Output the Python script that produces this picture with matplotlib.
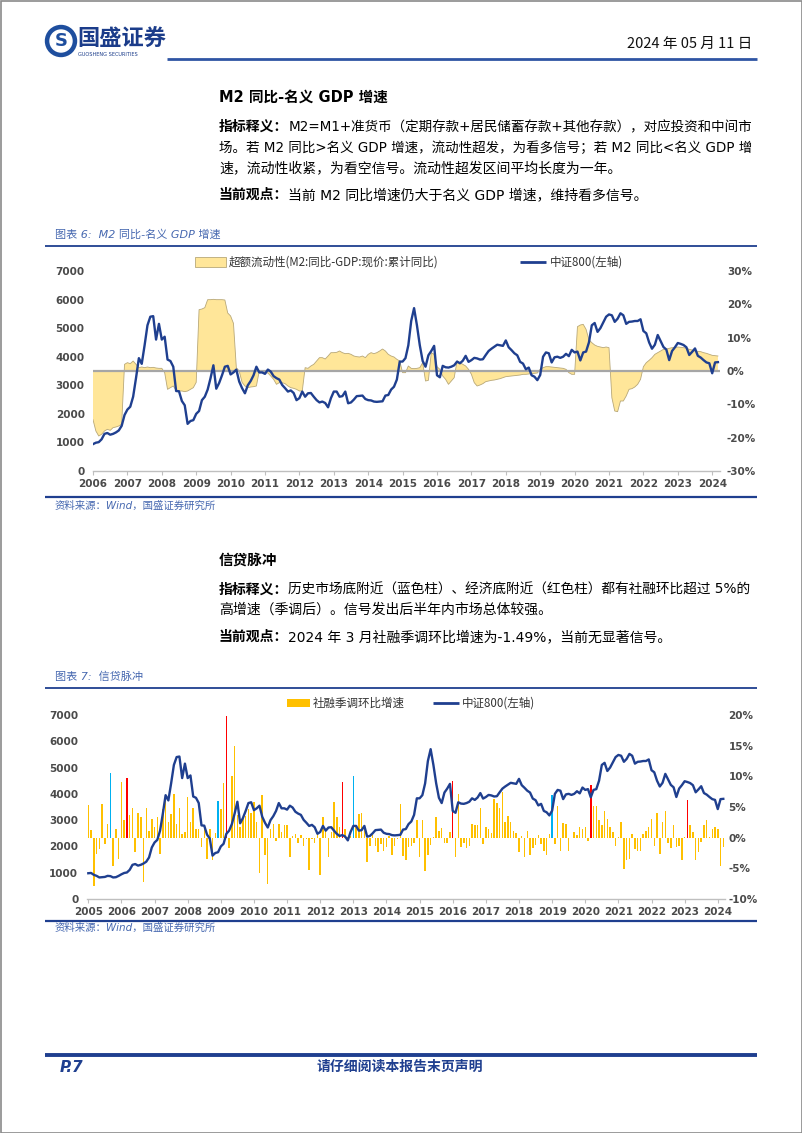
import numpy as np
import matplotlib
matplotlib.use("Agg")
import matplotlib.pyplot as plt
from matplotlib.patches import Rectangle, Circle
from matplotlib.lines import Line2D

plt.rcParams['font.family'] = ['DejaVu Sans', 'Noto Sans CJK SC']
plt.rcParams['axes.unicode_minus'] = False

# ---------------- data ----------------
# CSI 800 monthly close, 2005-01 .. 2024-03
csi800 = [
    980, 990, 920, 880, 820, 830, 840, 880, 870, 820, 830, 880,
    940, 990, 1010, 1110, 1300, 1330, 1270, 1300, 1350, 1420, 1580, 1960,
    2150, 2250, 2600, 3250, 3950, 3750, 4400, 5100, 5400, 5420, 4600, 5150,
    4600, 4700, 3900, 3850, 3650, 2800, 2790, 2450, 2300, 1650, 1750, 1780,
    2000, 2100, 2480, 2600, 2850, 3250, 3700, 2880, 3080, 3350, 3650, 3680,
    3380, 3450, 3550, 3130, 2900, 2720, 3000, 3150, 3350, 3650, 3450, 3450,
    3400, 3550, 3480, 3320, 3250, 3200, 3010, 2900, 2780, 2820, 2730, 2480,
    2550, 2780, 2600, 2720, 2730, 2600, 2480, 2400, 2430, 2380, 2230, 2550,
    2780, 2780, 2600, 2620, 2780, 2370, 2400, 2500, 2620, 2630, 2640, 2520,
    2480, 2470, 2430, 2420, 2430, 2440, 2640, 2660, 2850, 2950, 3200, 3830,
    3830, 3950, 4400, 5250, 5700, 5100, 4400, 3850, 3650, 4050, 4200, 4380,
    3350, 3280, 3680, 3630, 3620, 3650, 3700, 3830, 3770, 3860, 4030, 3820,
    3880, 3960, 3940, 3900, 3910, 4060, 4200, 4280, 4350, 4420, 4400, 4380,
    4570, 4330, 4230, 4120, 4050, 3820, 3760, 3560, 3620, 3350, 3300, 3180,
    3360, 4000, 4150, 4120, 3800, 3980, 4000, 3960, 4000, 4100, 4020, 4240,
    4150, 4180, 3870, 4150, 4180, 4500, 5100, 5180, 4870, 5000, 5200, 5400,
    5480, 5450, 5220, 5330, 5520, 5450, 5150, 5220, 5230, 5250, 5250, 5310,
    4900, 4820, 4500, 4280, 4420, 4760, 4550, 4340, 4250, 3880, 4200, 4330,
    4480, 4450, 4410, 4330, 4060, 4170, 4290, 4030, 3970, 3880, 3800, 3770,
    3420, 3800, 3810,
]
csi800_start = 2005

# Excess liquidity: M2 yoy - nominal GDP cumulative yoy (%), 2006-01 .. 2024-03
excess_liq = [
    -14.6, -18.0, -19.5, -19.0, -18.0, -17.5, -17.8, -17.0, -16.8, -16.5, -16.0, 2.0,
    2.5, 2.2, 3.0, 2.0, 1.0, 1.2, 1.0, 1.2, 1.0, 1.1, 0.9, 0.8,
    0.8, -0.5, -5.5, -5.0, -4.5, -5.8, -6.0, -6.0, -6.2, -6.0, -5.5, -5.0,
    -3.4, 18.4, 18.6, 19.0, 21.4, 21.4, 21.5, 21.4, 21.4, 21.4, 21.3, 17.4,
    16.5, 14.3, 1.0, 0.0, -3.4, -4.5, -5.0, -4.8, -4.7, -4.5, 0.0, -0.5,
    -0.5, -0.6, -1.5, -2.5, -4.0, -3.5, -3.5, -3.8, -4.5, -5.0, -5.2, -5.5,
    -6.0, -6.0, 1.0, 0.8, 1.5, 2.0, 3.0, 4.0, 4.0, 3.6, 4.5, 5.5,
    5.5, 5.6, 6.0, 5.5, 5.2, 5.3, 5.0, 4.5, 4.3, 4.2, 4.5, 4.0,
    5.0, 5.5, 5.2, 5.5, 6.0, 6.6, 6.0, 5.0, 4.5, 4.2, 3.5, 3.0,
    -0.5, -0.5, 1.5, 0.8, 0.7, 0.8, 1.0, 2.5, -3.0, -2.8, 5.5, 5.0,
    1.3, 0.5, -1.5, -2.5, -4.0, -3.0, -2.0, 3.0, 2.5, 2.0, 1.5, 0.5,
    -1.0, -3.5, -4.5, -4.2, -3.8, -3.2, -3.0, -2.8, -2.7, -2.5, -2.3, -2.0,
    -1.7, -1.6, -1.5, -1.4, -1.3, -1.2, -1.0, -1.0, -0.9, -0.8, -0.7, -0.6,
    0.5, 1.0, 1.3, 1.3, 1.2, 1.1, 1.0, 0.9, 0.8, 0.5, -0.5, -1.0,
    -1.0, 13.3, 13.8, 14.0, 12.5, 9.4, 8.5, 7.8, 7.4, 7.2, 7.0, 7.2,
    7.0, -8.0, -12.0, -12.2, -9.0, -9.0, -7.5, -5.5, -5.3, -4.8, -4.0, -2.5,
    1.3, 2.5, 3.2, 4.0, 5.0, 5.5, 6.0, 6.5, 6.6, 6.8, 7.0, 7.0,
    7.2, 7.1, 7.0, 6.8, 6.5, 6.3, 6.0, 5.9, 5.8, 5.5, 5.3, 5.0,
    4.7, 4.6, 4.5,
]
excess_start = 2006

# Social financing seasonally adjusted m/m growth (%), 2005-01 .. 2024-03
credit_pulse = [
    5.3, 1.3, -7.8, -2.7, -1.8, 5.5, -1.0, 2.2, 10.6, -4.6, 1.4, -3.5,
    9.1, 2.8, 9.8, 3.7, 4.8, -2.4, 4.1, 3.3, -7.2, 4.8, 1.1, 3.0,
    1.7, 3.3, -2.7, 4.7, 6.3, 2.5, 3.9, 7.1, 2.2, 4.9, 0.6, 0.9,
    6.7, 2.6, 4.9, 1.4, 1.4, -1.6, 2.0, -3.5, 1.4, -3.7, 0.8, 5.9,
    4.7, 8.9, 19.8, -1.7, 10.0, 14.9, 3.7, 1.8, 3.3, 3.6, 4.7, 4.1,
    5.8, 2.5, -5.7, 7.0, -2.9, -7.6, 1.4, 2.2, -0.5, 2.2, 1.0, 2.0,
    2.0, -3.2, 0.2, 0.6, -0.8, 0.4, -1.3, -0.2, -5.2, -0.2, -0.8, 0.6,
    -6.1, 3.3, 1.4, -3.2, 1.0, 5.8, 3.3, 1.7, 9.1, 1.4, 0.1, 0.3,
    10.0, 1.7, 3.9, 4.1, 2.0, -4.0, -1.3, 0.4, -1.3, -2.4, -1.0, -2.1,
    -1.6, 0.2, -2.8, -1.3, -0.2, 5.5, -3.0, -3.7, -1.6, -1.3, -0.8, 2.8,
    -3.2, 2.8, -5.4, -2.9, -1.2, 0.1, 3.3, 1.1, 1.5, -0.8, -0.8, 0.9,
    9.3, -3.2, 7.1, -1.6, -0.8, -1.7, -1.3, 2.2, 2.1, 2.0, 4.8, -1.0,
    1.7, 1.4, 0.8, 6.3, 5.7, 4.9, 7.4, 2.5, 3.5, 2.5, 1.1, 0.8,
    -2.4, 0.3, -3.2, 1.1, -2.9, -1.7, -1.2, 0.4, -1.0, -2.1, -2.9, 0.6,
    7.0, -1.0, 5.2, -2.1, 2.4, 2.2, -2.1, -0.1, 0.9, 0.4, 1.7, 1.4,
    1.8, -0.5, 8.6, 5.1, 5.1, 2.8, 2.1, 4.4, 3.0, 1.7, 1.0, -1.3,
    0.1, 2.5, -5.1, -3.7, -3.4, 0.6, -1.8, -2.1, -2.1, 0.6, 1.1, 1.8,
    3.0, -1.4, 4.0, -2.7, 2.5, 4.4, -0.8, -1.7, 2.0, -1.6, -1.4, -3.7,
    0.1, 6.2, 2.1, 0.9, -3.7, -2.4, -0.7, 2.0, 2.8, 0.1, 1.4, 1.8,
    1.4, -4.6, -1.49,
]
credit_start = 2005
blue_signal_months = ['2005-09', '2008-12', '2013-01', '2019-01']   # market bottoms
red_signal_months = ['2006-03', '2009-03', '2012-09', '2016-01', '2020-03', '2023-02']  # economy bottoms

chart1_years = list(range(2006, 2025))
chart2_years = list(range(2005, 2025))
left_ticks = [0, 1000, 2000, 3000, 4000, 5000, 6000, 7000]
right_ticks1 = [-30, -20, -10, 0, 10, 20, 30]
right_ticks2 = [-10, -5, 0, 5, 10, 15, 20]

# ---------------- figure ----------------
W, H = 802, 1133
fig = plt.figure(figsize=(W / 100, H / 100), dpi=100)
fig.patch.set_facecolor('white')

deco = fig.add_axes([0, 0, 1, 1])
deco.set_xlim(0, W)
deco.set_ylim(H, 0)
deco.axis('off')

NAVY = '#1F3F8F'
CAP = '#4668B0'
FAM = ['DejaVu Sans', 'Noto Sans CJK SC']


def T(x, y, s, size, **kw):
    kw.setdefault('va', 'center')
    kw.setdefault('family', FAM)
    return deco.text(x, y, s, fontsize=size, **kw)


def HL(x0, x1, y, lw, color):
    deco.add_line(Line2D([x0, x1], [y, y], lw=lw, color=color, solid_capstyle='butt'))


# page border
deco.add_patch(Rectangle((0.5, 0.5), W - 1, H - 1, fill=False, edgecolor='#8a8a8a', lw=1.2))

# header logo
deco.add_patch(Circle((61, 41), 15.5, color='#1E4E9E'))
deco.add_patch(Circle((61, 41), 11, color='white'))
T(61, 41.5, 'S', 13, ha='center', weight='bold', color='#1E4E9E')
T(77, 39, '国盛证券', 16, weight='bold', color='#1B3C8A', family=['Noto Sans CJK SC'])
T(78, 55, 'GUOSHENG SECURITIES', 3.6, color='#1B3C8A')
T(752, 44, '2024 年 05 月 11 日', 10.5, ha='right', color='#111111', family=['Noto Sans CJK SC'])
HL(167, 757, 59, 2.0, '#2F55A4')

justify = []

# section 1 text
T(219, 97, 'M2 同比-名义 GDP 增速', 10.5, weight='bold')
T(219, 127, '指标释义：', 10, weight='bold')
justify.append((T(288.5, 127, 'M2=M1+准货币（定期存款+居民储蓄存款+其他存款），对应投资和中间市', 10), 288.5))
justify.append((T(219, 148, '场。若 M2 同比>名义 GDP 增速，流动性超发，为看多信号；若 M2 同比<名义 GDP 增', 10), 219))
T(219, 168, '速，流动性收紧，为看空信号。流动性超发区间平均长度为一年。', 10)
T(219, 195, '当前观点：', 10, weight='bold')
T(288.5, 195, '当前 M2 同比增速仍大于名义 GDP 增速，维持看多信号。', 10)

T(55, 235, '图表 6:  M2 同比-名义 GDP 增速', 8, color=CAP, style='italic')
HL(45, 757, 246, 1.3, NAVY)
HL(45, 757, 497, 1.6, NAVY)
T(55, 506, '资料来源：Wind，国盛证券研究所', 7.5, color=CAP, style='italic')

# section 2 text
T(219, 560, '信贷脉冲', 10.5, weight='bold')
T(219, 590, '指标释义：', 10, weight='bold')
justify.append((T(288.5, 590, '历史市场底附近（蓝色柱）、经济底附近（红色柱）都有社融环比超过 5%的', 10), 288.5))
T(219, 610, '高增速（季调后）。信号发出后半年内市场总体较强。', 10)
T(219, 637, '当前观点：', 10, weight='bold')
T(288.5, 637, '2024 年 3 月社融季调环比增速为-1.49%，当前无显著信号。', 10)

T(55, 677, '图表 7:  信贷脉冲', 8, color=CAP, style='italic')
HL(45, 757, 688, 1.3, NAVY)
HL(45, 757, 921, 1.6, NAVY)
T(55, 928, '资料来源：Wind，国盛证券研究所', 7.5, color=CAP, style='italic')

# footer
HL(45, 757, 1055, 2.8, NAVY)
T(60, 1067, 'P.7', 11, weight='bold', style='italic', color=NAVY)
T(400, 1067, '请仔细阅读本报告末页声明', 10, ha='center', weight='bold', color=NAVY,
  family=['Noto Sans CJK SC'])

# legends (manual keys)
deco.add_patch(Rectangle((195, 257), 31, 10, facecolor='#FFE699', edgecolor='#B8A878', lw=0.6))
T(229, 262, '超额流动性(M2:同比-GDP:现价:累计同比)', 8.3, color='#333333', family=['Noto Sans CJK SC'])
HL(520, 546, 262, 2.0, NAVY)
T(550, 262, '中证800(左轴)', 8.3, color='#333333', family=['Noto Sans CJK SC'])

deco.add_patch(Rectangle((287, 699), 23, 8, facecolor='#FFC000', edgecolor='none'))
T(313, 703, '社融季调环比增速', 8.3, color='#333333', family=['Noto Sans CJK SC'])
HL(433, 459, 703, 2.0, NAVY)
T(462, 703, '中证800(左轴)', 8.3, color='#333333', family=['Noto Sans CJK SC'])

TICK_COLOR = '#4a4a4a'


def style_axes(ax, axr, years, xlim, rpad):
    ax.set_xlim(*xlim)
    ax.set_ylim(0, 7000)
    ax.set_yticks(left_ticks)
    ax.set_xticks(years)
    ax.set_xticklabels([str(y) for y in years])
    for a in (ax, axr):
        for s in ('top', 'left', 'right'):
            a.spines[s].set_visible(False)
    axr.spines['bottom'].set_visible(False)
    ax.spines['bottom'].set_color('#BFBFBF')
    ax.spines['bottom'].set_linewidth(1.0)
    ax.tick_params(axis='y', length=0, pad=6, labelsize=7.5, labelcolor=TICK_COLOR)
    ax.tick_params(axis='x', length=3, width=0.8, color='#BFBFBF', pad=3,
                   labelsize=7.5, labelcolor=TICK_COLOR)
    axr.tick_params(axis='y', length=0, pad=rpad, labelsize=7.5, labelcolor=TICK_COLOR)
    for lab in ax.get_xticklabels() + ax.get_yticklabels() + axr.get_yticklabels():
        lab.set_fontweight('bold')
    ax.set_zorder(axr.get_zorder() + 1)
    ax.patch.set_visible(False)


# ---------------- chart 1 ----------------
px1 = 34.4
ax1 = fig.add_axes([93 / W, 1 - 471 / H, (720 - 93) / W, 200 / H])
ax1r = ax1.twinx()
t_csi = csi800_start + np.arange(len(csi800)) / 12.0
t_ex = excess_start + np.arange(len(excess_liq)) / 12.0
ex = np.array(excess_liq)
ax1r.fill_between(t_ex, 0, ex, facecolor='#FFE699', edgecolor='none', zorder=1)
ax1r.plot(t_ex, ex, color='#B8A878', lw=0.6, zorder=2)
ax1r.axhline(0, color='#A6A6A6', lw=1.6, zorder=3)
ax1r.set_ylim(-30, 30)
ax1r.set_yticks(right_ticks1)
ax1r.set_yticklabels([f'{v}%' for v in right_ticks1])
m1 = t_csi >= 2006 - 1e-9
ax1.plot(t_csi[m1], np.array(csi800)[m1], color=NAVY, lw=1.7, zorder=5)
style_axes(ax1, ax1r, chart1_years, (2006, 2006 + (720 - 93) / px1), 5)

# ---------------- chart 2 ----------------
px2 = 33.13
x0_2 = 88.3 - 0.05 * px2
x1_2 = 725.0
ax2 = fig.add_axes([x0_2 / W, 1 - 899 / H, (x1_2 - x0_2) / W, 184 / H])
ax2r = ax2.twinx()
t_cp = credit_start + np.arange(len(credit_pulse)) / 12.0
labels_cp = [f'{credit_start + i // 12}-{i % 12 + 1:02d}' for i in range(len(credit_pulse))]
colors = ['#00B0F0' if m in blue_signal_months else '#FF0000' if m in red_signal_months else '#FFC000'
          for m in labels_cp]
ax2r.bar(t_cp, credit_pulse, width=0.045, color=colors, linewidth=0, zorder=2)
ax2r.set_ylim(-10, 20)
ax2r.set_yticks(right_ticks2)
ax2r.set_yticklabels([f'{v}%' for v in right_ticks2])
ax2.plot(t_cp, csi800, color=NAVY, lw=1.7, zorder=5)
style_axes(ax2, ax2r, chart2_years, (2005 - 0.05, 2005 - 0.05 + (x1_2 - x0_2) / px2), 2.5)

# fit justified body lines to the right margin
fig.canvas.draw()
renderer = fig.canvas.get_renderer()
for txt, xs in justify:
    w = txt.get_window_extent(renderer).width
    txt.set_fontsize(txt.get_fontsize() * (752 - xs) / w)

fig.savefig('out.png', dpi=100, facecolor='white')
